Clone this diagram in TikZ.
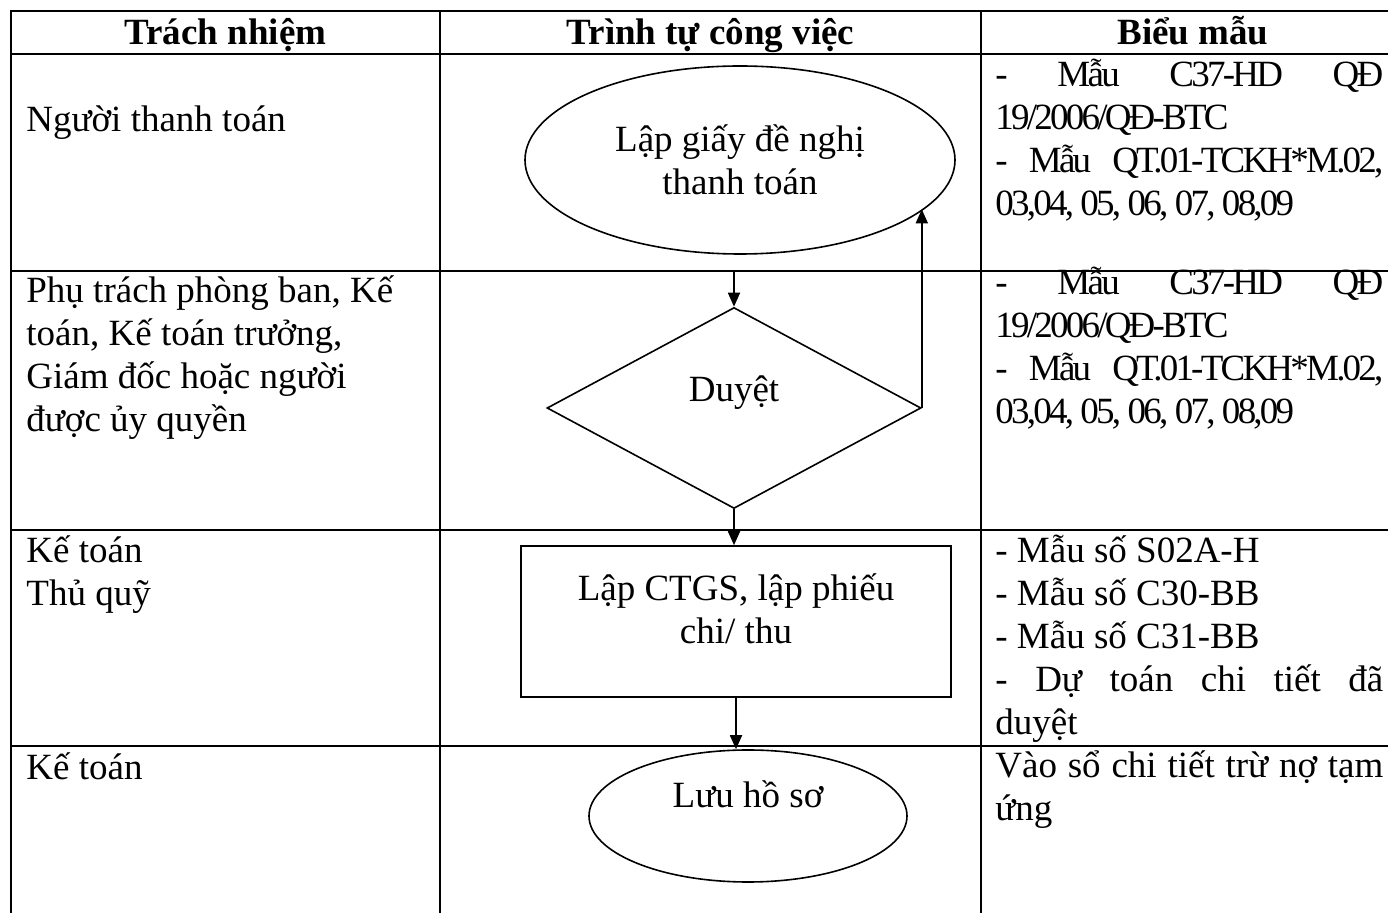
\documentclass[tikz,border=0pt]{standalone}
\usepackage{fontspec}
\setmainfont{Liberation Serif}
\newfontfamily\condfont{Liberation Serif}[LetterSpace=-7.5]
\usetikzlibrary{shapes.geometric,arrows.meta}
\begin{document}
\begin{tikzpicture}[x=0.5pt,y=-0.5pt,
  every node/.style={font=\fontsize{18.5pt}{21.5pt}\selectfont, inner sep=0pt},
  grid/.style={line width=1.35pt},
  hdr/.style={anchor=base, font=\fontsize{18.5pt}{21.5pt}\selectfont\bfseries},
  resp/.style={anchor=base west, text width=200pt, align=flush left},
  form/.style={anchor=base west, text width=194pt, align=justify},
  shp/.style={draw, line width=0.8pt},
  arr/.style={line width=0.9pt, -{Triangle[length=7pt,width=6pt]}}
]
\useasboundingbox (0,0) rectangle (1388,913);
% table grid
\foreach \yy in {11,54,271,530,746}
  \draw[grid] (10.3,\yy) -- (1400,\yy);
\foreach \xx in {11,440,981}
  \draw[grid] (\xx,10.3) -- (\xx,915);
% header
\node[hdr] (h1) at (225.5,45) {Trách nhiệm};
\node[hdr] (h2) at (710.5,45) {Trình tự công việc};
\node[hdr] (h3) at (1193,45) {Biểu mẫu};
% responsibilities
\node[resp] (r1) at (26,132) {Người thanh toán};
\node[resp] (r2) at (26,303) {Phụ trách phòng ban, Kế\\toán, Kế toán trưởng,\\Giám đốc hoặc người\\được ủy quyền};
\node[resp] (r3) at (26,563) {Kế toán\\Thủ quỹ};
\node[resp] (r4) at (26,780) {Kế toán};
% forms
\node[form] (f1) at (995,87) {\condfont - Mẫu C37-HD QĐ\linebreak 19/2006/QĐ-BTC\newline - Mẫu QT.01-TCKH*M.02,\linebreak 03,04, 05, 06, 07, 08,09};
\node[form] (f2) at (995,295) {\condfont - Mẫu C37-HD QĐ\linebreak 19/2006/QĐ-BTC\newline - Mẫu QT.01-TCKH*M.02,\linebreak 03,04, 05, 06, 07, 08,09};
\node[form] (f3) at (995,563) {- Mẫu số S02A-H\newline - Mẫu số C30-BB\newline - Mẫu số C31-BB\newline - Dự toán chi tiết đã\linebreak duyệt};
\node[form] (f4) at (995,778) {Vào sổ chi tiết trừ nợ tạm\linebreak ứng};
% flow
\node[shp, ellipse, minimum width=215pt, minimum height=94pt, align=center] (e1) at (740,160) {Lập giấy đề nghị\\thanh toán};
\node[shp, diamond, minimum width=187pt, minimum height=100.5pt, text height=13pt, text depth=19pt] (d) at (734,408) {Duyệt};
\node[shp, rectangle, minimum width=215pt, minimum height=75.5pt, align=center, text depth=12.5pt] (r) at (736,621.5) {Lập CTGS, lập phiếu\\chi/ thu};
\node[shp, ellipse, minimum width=159pt, minimum height=66pt, text height=14pt, text depth=22pt] (e2) at (748,816) {Lưu hồ sơ};
\draw[arr, shorten <=8.5pt] (e1.south -| d.north) -- (d.north);
\draw[arr] (d.south) -- (d.south |- r.north);
\draw[arr] (r.south) -- (r.south |- e2.north);
\draw[arr] (d.east) -- (d.east |- e1.-15.7);
\end{tikzpicture}
\end{document}
